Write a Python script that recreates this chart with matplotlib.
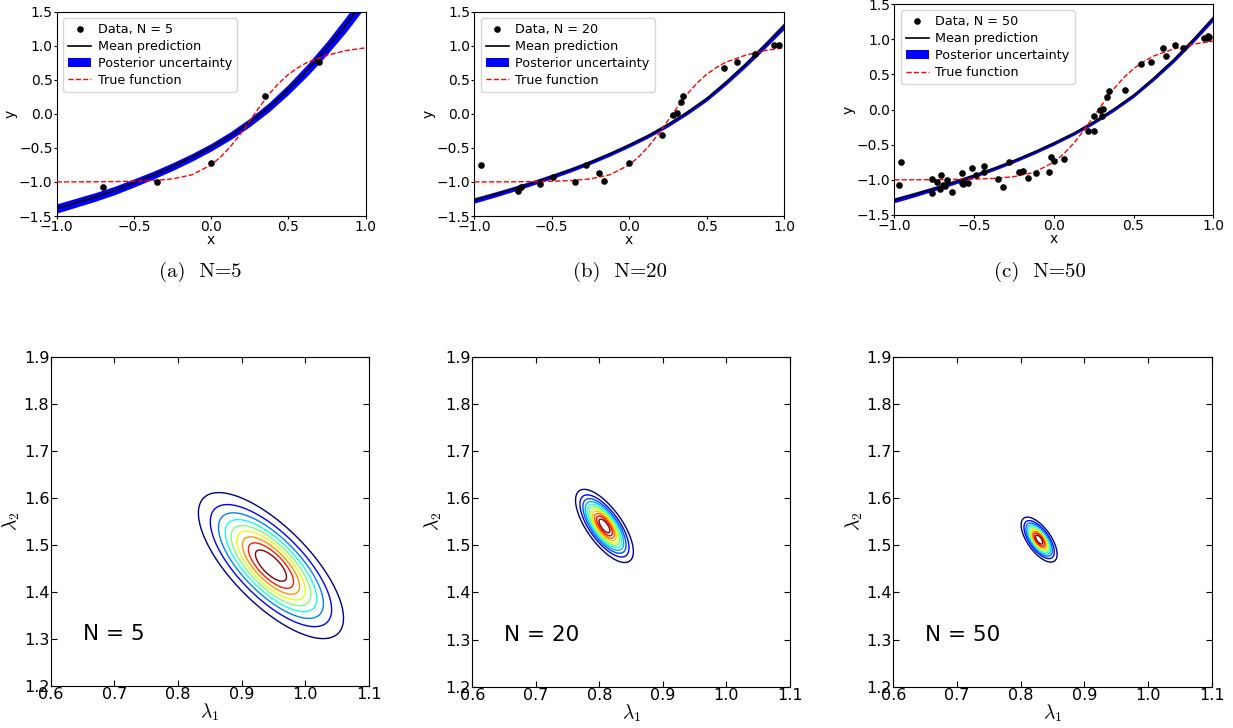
import matplotlib
matplotlib.use("Agg")
import matplotlib.pyplot as plt
import numpy as np

W, H = 1233, 728

# --- top row: posterior predictive fits -----------------------------------
X_GRID = [-1.0, -0.875, -0.75, -0.625, -0.5, -0.375, -0.25, -0.125, 0.0,
          0.125, 0.25, 0.375, 0.5, 0.625, 0.75, 0.875, 1.0]

MEAN_5 = [-1.39, -1.305, -1.22, -1.125, -1.015, -0.90, -0.775, -0.64, -0.49,
          -0.32, -0.125, 0.10, 0.36, 0.65, 0.97, 1.32, 1.71]
MEAN_20 = [-1.27, -1.19, -1.105, -1.015, -0.92, -0.82, -0.71, -0.59, -0.46,
           -0.32, -0.16, 0.02, 0.22, 0.46, 0.72, 1.00, 1.29]
MEAN_50 = [-1.29, -1.21, -1.125, -1.035, -0.94, -0.84, -0.73, -0.61, -0.48,
           -0.34, -0.18, 0.0, 0.20, 0.44, 0.70, 0.99, 1.30]

HW_5 = [0.068, 0.066, 0.064, 0.062, 0.060, 0.058, 0.057, 0.056, 0.056,
        0.058, 0.062, 0.068, 0.076, 0.086, 0.098, 0.112, 0.130]
HW_20 = [0.040, 0.038, 0.036, 0.034, 0.033, 0.032, 0.031, 0.031, 0.031,
         0.031, 0.032, 0.033, 0.035, 0.038, 0.041, 0.045, 0.050]
HW_50 = [0.035, 0.033, 0.031, 0.030, 0.029, 0.028, 0.027, 0.027, 0.027,
         0.027, 0.028, 0.029, 0.030, 0.032, 0.035, 0.038, 0.042]

TRUE_X = [-1.0, -0.75, -0.5, -0.375, -0.25, -0.125, 0.0, 0.0625, 0.125, 0.1875,
          0.25, 0.3125, 0.375, 0.4375, 0.5, 0.5625, 0.625, 0.75, 0.875, 1.0]
TRUE_Y = [-1.0, -0.998, -0.99, -0.98, -0.955, -0.895, -0.75, -0.63, -0.48,
          -0.30, -0.10, 0.10, 0.29, 0.45, 0.58, 0.68, 0.76, 0.86, 0.93, 0.97]

X5 = [-0.70, -0.35, 0.0, 0.35, 0.70]
Y5 = [-1.07, -1.0, -0.727, 0.257, 0.766]

X20 = [-0.957, -0.72, -0.70, -0.576, -0.49, -0.348, -0.281, -0.193, -0.165, 0.0,
       0.212, 0.285, 0.307, 0.333, 0.35, 0.61, 0.696, 0.813, 0.938, 0.966]
Y20 = [-0.747, -1.133, -1.075, -1.026, -0.928, -0.996, -0.747, -0.869, -0.982,
       -0.727, -0.306, -0.012, 0.017, 0.173, 0.262, 0.673, 0.766, 0.883, 1.015,
       1.015]

X50 = [-0.971, -0.956, -0.766, -0.762, -0.735, -0.714, -0.707, -0.697, -0.680,
       -0.670, -0.636, -0.578, -0.575, -0.572, -0.567, -0.540, -0.511, -0.490,
       -0.438, -0.436, -0.348, -0.319, -0.283, -0.218, -0.191, -0.162, -0.110,
       -0.030, -0.018, 0.001, 0.062, 0.212, 0.250, 0.250, 0.287, 0.304, 0.306,
       0.335, 0.348, 0.444, 0.544, 0.611, 0.684, 0.701, 0.758, 0.812, 0.941,
       0.964, 0.969, 0.975]
Y50 = [-1.073, -0.751, -0.988, -1.187, -1.036, -1.135, -0.931, -1.069, -1.088,
       -1.007, -1.178, -0.908, -1.040, -1.031, -1.064, -1.045, -0.836, -0.931,
       -0.893, -0.799, -0.993, -1.102, -0.746, -0.884, -0.870, -0.979, -0.908,
       -0.889, -0.671, -0.727, -0.699, -0.306, -0.306, -0.088, -0.007, -0.088,
       0.007, 0.173, 0.263, 0.277, 0.642, 0.675, 0.870, 0.765, 0.922, 0.870,
       1.012, 1.012, 1.050, 1.030]

TOP_N = [5, 20, 50]
TOP_DATA = [(X5, Y5, MEAN_5, HW_5), (X20, Y20, MEAN_20, HW_20),
            (X50, Y50, MEAN_50, HW_50)]
CAPTIONS = ["(a)  N=5", "(b)  N=20", "(c)  N=50"]

# --- bottom row: posterior over (lambda1, lambda2) --------------------------
POST_MEAN = [(0.946, 1.456), (0.808, 1.541), (0.829, 1.512)]
POST_STD = [(0.0531, 0.0725), (0.0204, 0.0348), (0.0129, 0.0218)]
POST_RHO = [-0.72, -0.70, -0.65]
N_LEVELS = [9, 11, 10]


def px_box(left, top, right, bottom):
    return [left / W, 1 - bottom / H, (right - left) / W, (bottom - top) / H]


fig = plt.figure(figsize=(W / 100, H / 100), dpi=100)

top_boxes = [px_box(56.7, 11.7, 365.7, 216), px_box(474.3, 11.7, 784, 216),
             px_box(894.3, 4, 1213.3, 215)]
cap_x = [200, 620, 1040]

xg = np.array(X_GRID)
for i, (box, (xd, yd, mean, hw)) in enumerate(zip(top_boxes, TOP_DATA)):
    ax = fig.add_axes(box)
    mean = np.array(mean)
    hw = np.array(hw)
    ax.fill_between(xg, mean - hw, mean + hw, color="b", lw=0,
                    label="Posterior uncertainty", zorder=1)
    ax.plot(xg, mean, color="k", lw=1.2, label="Mean prediction", zorder=2)
    ax.plot(TRUE_X, TRUE_Y, "r--", lw=1.0, label="True function", zorder=3)
    ax.plot(xd, yd, "k.", ms=7.5, label=f"Data, N = {TOP_N[i]}", zorder=4)
    ax.set_xlim(-1, 1)
    ax.set_ylim(-1.5, 1.5)
    ax.set_xticks([-1.0, -0.5, 0.0, 0.5, 1.0])
    ax.set_yticks([-1.5, -1.0, -0.5, 0.0, 0.5, 1.0, 1.5])
    ax.tick_params(labelsize=10, length=2, pad=1)
    ax.set_xlabel("x", fontsize=10, labelpad=-1)
    ax.set_ylabel("y", fontsize=10, labelpad=1)
    h, l = ax.get_legend_handles_labels()
    order = [3, 1, 0, 2]
    ax.legend([h[k] for k in order], [l[k] for k in order], loc="upper left",
              fontsize=9.2, numpoints=1, handlelength=1.8, handletextpad=0.5,
              labelspacing=0.3, borderpad=0.4)
    fig.text(cap_x[i] / W, 1 - 272 / H, CAPTIONS[i], fontfamily="cmr10",
             fontsize=15, ha="center", va="center")

bot_boxes = [px_box(50.7, 357.3, 369, 685.7), px_box(472.3, 356.7, 790, 686.7),
             px_box(893.3, 356.7, 1211.7, 686.7)]

l1 = np.linspace(0.6, 1.1, 500)
l2 = np.linspace(1.2, 1.9, 700)
L1, L2 = np.meshgrid(l1, l2)
for i, box in enumerate(bot_boxes):
    ax = fig.add_axes(box)
    (m1, m2), (s1, s2), rho = POST_MEAN[i], POST_STD[i], POST_RHO[i]
    u = (L1 - m1) / s1
    v = (L2 - m2) / s2
    dens = np.exp(-(u ** 2 - 2 * rho * u * v + v ** 2) / (2 * (1 - rho ** 2)))
    levels = np.linspace(0, 1, N_LEVELS[i] + 2)[1:-1]
    ax.contour(L1, L2, dens, levels=levels, cmap="jet", linewidths=1.0)
    ax.set_xlim(0.6, 1.1)
    ax.set_ylim(1.2, 1.9)
    ax.set_xticks([0.6, 0.7, 0.8, 0.9, 1.0, 1.1])
    ax.set_yticks([1.2, 1.3, 1.4, 1.5, 1.6, 1.7, 1.8, 1.9])
    ax.tick_params(direction="in", top=True, right=True, length=4,
                   labelsize=11.5, pad=1)
    ax.set_xlabel(r"$\lambda_1$", fontsize=14, math_fontfamily="cm", labelpad=0)
    ax.set_ylabel(r"$\lambda_2$", fontsize=14, math_fontfamily="cm", labelpad=1)
    ax.text(0.65, 1.31, f"N = {TOP_N[i]}", fontsize=15.5, va="center")

fig.savefig("out.png", dpi=100)
